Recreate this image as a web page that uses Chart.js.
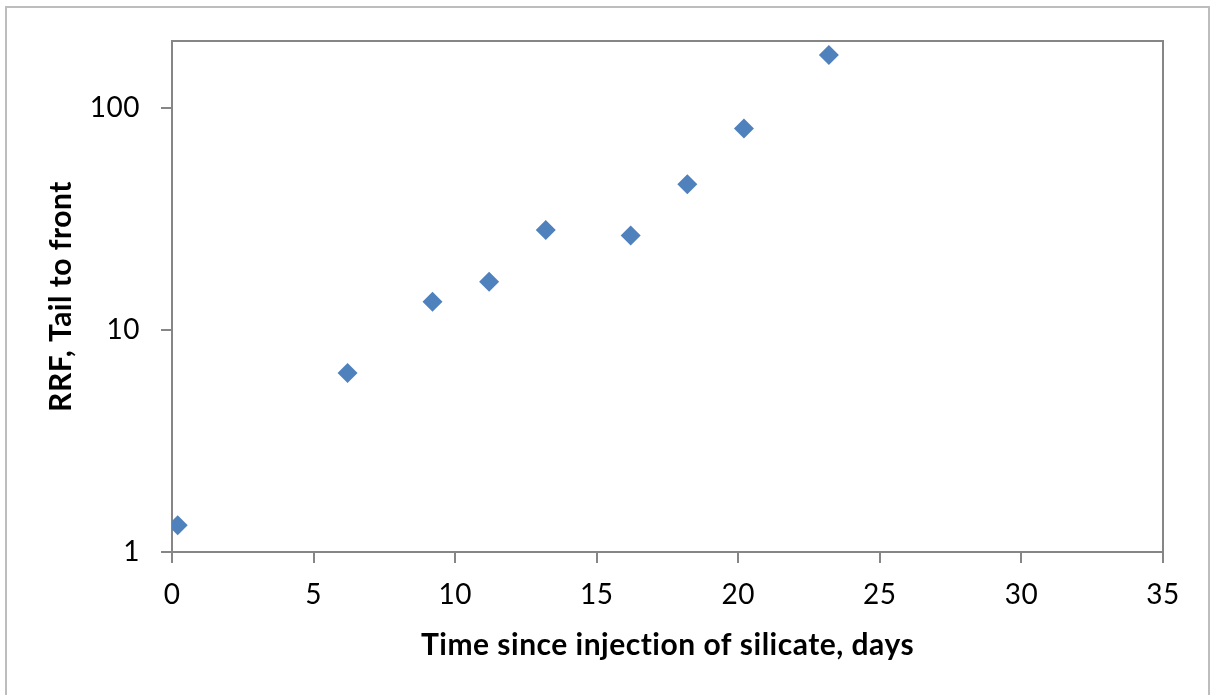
<!DOCTYPE html>
<html>
<head>
<meta charset="utf-8">
<title>RRF vs time since silicate injection</title>
<script src="https://cdn.jsdelivr.net/npm/chart.js@4.4.1/dist/chart.umd.min.js"></script>
<style>
  html, body { margin: 0; padding: 0; background: #fff; }
  #wrap { width: 1210px; height: 695px; position: relative; }
</style>
</head>
<body>
<div id="wrap"><canvas id="rrfChart" width="1210" height="695"></canvas></div>
<script>
// Measured RRF (tail to front) against days since silicate injection
const days = [0.2, 6.2, 9.2, 11.2, 13.2, 16.2, 18.2, 20.2, 23.2];
const rrf = [1.32, 6.4, 13.4, 16.5, 28.2, 26.6, 45.3, 80.7, 173];

// Axis ticks
const xTicks = [0, 5, 10, 15, 20, 25, 30, 35];
const yTicks = [1, 10, 100];

const AXIS_GRAY = "#868686";
const FONT = "Lato, 'Open Sans', sans-serif";

// outer frame plus top/right border of the plot area
const framePlugin = {
  id: "frame",
  beforeDraw(chart) {
    const ctx = chart.ctx;
    // slight tracking; also keeps Lato from joining "ti"
    ctx.letterSpacing = "0.5px";
    ctx.save();
    ctx.fillStyle = "#fff";
    ctx.fillRect(0, 0, chart.width, chart.height);
    ctx.strokeStyle = "#bdbdbd";
    ctx.lineWidth = 2;
    ctx.strokeRect(6, 7, 1203, 700);
    ctx.restore();
  },
  afterDraw(chart) {
    const a = chart.chartArea;
    const ctx = chart.ctx;
    ctx.save();
    ctx.strokeStyle = AXIS_GRAY;
    ctx.lineWidth = 2;
    ctx.beginPath();
    ctx.moveTo(a.left, a.top);
    ctx.lineTo(a.right, a.top);
    ctx.lineTo(a.right, a.bottom);
    ctx.stroke();
    ctx.restore();
  }
};

const points = days.map((d, i) => ({ x: d, y: rrf[i] }));

new Chart(document.getElementById("rrfChart"), {
  type: "scatter",
  data: {
    datasets: [{
      label: "RRF",
      data: points,
      pointStyle: "rectRot",
      pointRadius: 10,
      pointHoverRadius: 10,
      backgroundColor: "#4F81BD",
      borderColor: "#4F81BD",
      borderWidth: 0
    }]
  },
  options: {
    responsive: false,
    animation: false,
    layout: { padding: { left: 0, top: 41, right: 47, bottom: 0 } },
    plugins: {
      legend: { display: false },
      tooltip: { enabled: false }
    },
    scales: {
      x: {
        type: "linear",
        min: 0,
        max: 35,
        afterBuildTicks(scale) { scale.ticks = xTicks.map(v => ({ value: v })); },
        afterFit(scale) { scale.height = 143; },
        grid: { drawOnChartArea: false, drawTicks: true, tickLength: 11, color: AXIS_GRAY, lineWidth: 2 },
        border: { display: true, color: AXIS_GRAY, width: 2 },
        ticks: { color: "#000", font: { family: FONT, size: 28 }, padding: 15, maxRotation: 0 },
        title: {
          display: true,
          text: "Time since injection of silicate, days",
          color: "#000",
          font: { family: FONT, size: 30, weight: "bold" },
          padding: { top: 32, bottom: 32 }
        }
      },
      y: {
        type: "logarithmic",
        min: 1,
        max: 200,
        afterBuildTicks(scale) { scale.ticks = yTicks.map(v => ({ value: v })); },
        afterFit(scale) { scale.width = 172; },
        grid: { drawOnChartArea: false, drawTicks: true, tickLength: 11, color: AXIS_GRAY, lineWidth: 2 },
        border: { display: true, color: AXIS_GRAY, width: 2 },
        ticks: {
          color: "#000",
          font: { family: FONT, size: 28 },
          padding: 21,
          callback: v => String(v)
        },
        title: {
          display: true,
          text: "RRF, Tail to front",
          color: "#000",
          font: { family: FONT, size: 30, weight: "bold" },
          padding: { top: 43, bottom: 43 }
        }
      }
    }
  },
  plugins: [framePlugin]
});
</script>
</body>
</html>
